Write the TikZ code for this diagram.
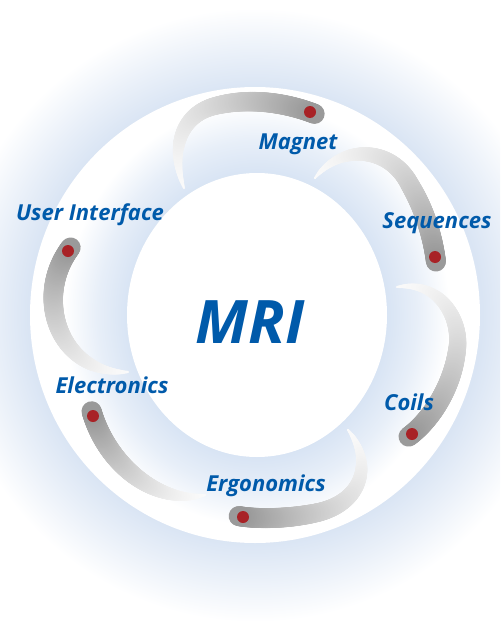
\documentclass[tikz,border=0pt]{standalone}
\usepackage{fontspec}
\setmainfont{Open Sans}
\usetikzlibrary{decorations.markings}
\definecolor{lblue}{HTML}{005AAA}
\definecolor{hblue}{HTML}{DAE5F4}
\definecolor{rblue}{HTML}{D8E4F4}
\definecolor{dotred}{HTML}{A82226}
\colorlet{hbluemid}{hblue!55!white}
\colorlet{rbluemid}{rblue!60!white}
\pgfdeclareradialshading{halo}{\pgfpoint{0bp}{0bp}}{color(0bp)=(hblue); color(18.5bp)=(hblue); color(21.5bp)=(hbluemid); color(25bp)=(white); color(50bp)=(white)}
\pgfdeclareradialshading{ringhalo}{\pgfpoint{0bp}{0bp}}{color(0bp)=(rblue); color(15.8bp)=(rblue); color(19.5bp)=(rbluemid); color(23.5bp)=(white); color(50bp)=(white)}
\tikzset{
  brush/.style={decoration={markings,
    mark=between positions 0 and 1 step 0.004 with {
      \pgfmathsetmacro\brt{\pgfkeysvalueof{/pgf/decoration/mark info/distance from start}/\pgfdecoratedpathlength}
      \pgfmathsetmacro\brr{0.75*(1.2+8.8*(1-(1-\brt)^3))}
      \pgfmathsetmacro\brp{2+38*(\brt^1.5)}
      \fill[black!\brp!white] (0,0) circle[radius=\brr pt];
    }}, decorate},
  lab/.style={font=\fontsize{16.5}{19}\selectfont\bfseries\itshape, text=lblue, anchor=base, inner sep=0pt},
  reddot/.style={fill=dotred}
}
\begin{document}
\begin{tikzpicture}[x=0.75pt,y=-0.75pt]
\useasboundingbox (0,0) rectangle (500,621);
\clip (0,0) rectangle (500,621);
\fill[white] (0,0) rectangle (500,621);
% halo
\shade[shading=halo] (255,315) circle[radius=307];
% outer white disc
\fill[white] (255,315) ellipse[x radius=225, y radius=228];
% ring halo around inner disc
\shade[shading=ringhalo] (257,315) ellipse[x radius=205, y radius=224];
% inner white disc
\fill[white] (257,315) ellipse[x radius=130, y radius=142];

% arcs (tail -> head)
\path[brush] (184,188) .. controls (170,150) and (180,115) .. (215,106) .. controls (250,97) and (287,103) .. (315,114);
\path[brush] (315,178) .. controls (340,145) and (390,145) .. (410,185) .. controls (425,210) and (433,238) .. (436,262);
\path[brush] (397,287) .. controls (440,280) and (462,320) .. (457,350) .. controls (452,390) and (428,423) .. (408,437);
\path[brush] (348,430) .. controls (372,460) and (365,500) .. (320,512) .. controls (295,518) and (262,520) .. (238,516);
\path[brush] (205,495) .. controls (160,505) and (108,468) .. (91.5,411);
\path[brush] (128,372) .. controls (60,375) and (32,298) .. (71,247);

% head dots
\coordinate (h1) at (310,112);
\coordinate (h2) at (435,257);
\coordinate (h3) at (412,434);
\coordinate (h4) at (243,517);
\coordinate (h5) at (93,416);
\coordinate (h6) at (68,251);
\foreach \h in {h1,h2,h3,h4,h5,h6} \fill[reddot] (\h) circle[radius=4.5pt];

% labels
\node[lab] (magnet) at (298,149) {Magnet};
\node[lab] (seq) at (437,228) {Sequences};
\node[lab] (ui) at (90,220) {User Interface};
\node[lab] (elec) at (112,393) {Electronics};
\node[lab] (coils) at (409,410) {Coils};
\node[lab] (ergo) at (266,491) {Ergonomics};
\node[font=\fontsize{45}{52}\selectfont\bfseries\itshape, text=lblue, anchor=base, inner sep=0pt] (mri) at (250,343) {MRI};
\end{tikzpicture}
\end{document}
